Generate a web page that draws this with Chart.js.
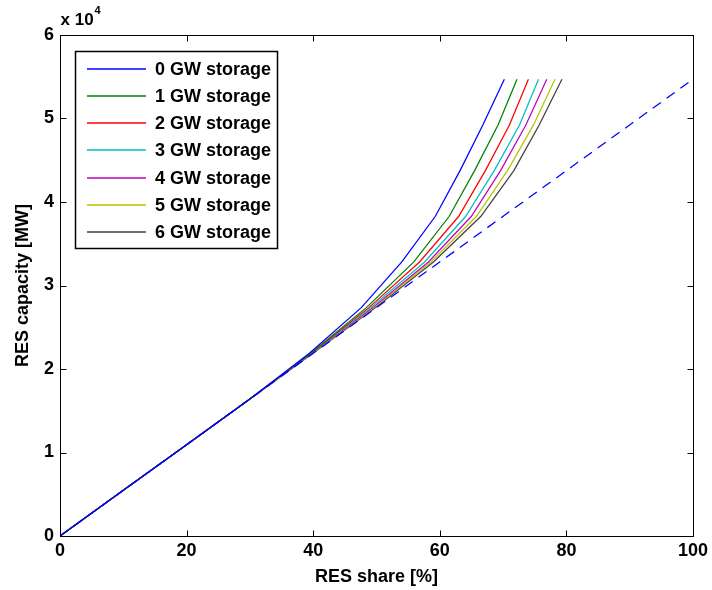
<!DOCTYPE html>
<html lang="en">
<head>
  <meta charset="UTF-8">
  <title>RES capacity vs share</title>
  <script src="https://cdn.jsdelivr.net/npm/chart.js"></script>
  <style>
    body { margin: 0; background: #fff; }
    canvas { display: block; }
  </style>
</head>
<body>
  <canvas id="resChart" width="712" height="590"></canvas>

  <script>
    // capacity levels [MW] at which each storage case was evaluated
    const capacity = [0, 5470, 10940, 16410, 21880, 27350, 32820, 38290, 43760, 49230, 54700];

    // RES share [%] reached at each capacity level
    const share0GW = [0, 10, 20, 30, 39.4, 47.6, 54.0, 59.3, 63.2, 66.8, 70.2];
    const share1GW = [0, 10, 20, 30, 39.6, 48.4, 55.9, 61.5, 65.5, 69.2, 72.2];
    const share2GW = [0, 10, 20, 30, 39.7, 48.8, 56.8, 63.0, 67.2, 71.0, 74.0];
    const share3GW = [0, 10, 20, 30, 39.8, 49.1, 57.6, 64.1, 68.6, 72.6, 75.6];
    const share4GW = [0, 10, 20, 30, 39.85, 49.4, 58.2, 65.0, 69.6, 73.6, 76.9];
    const share5GW = [0, 10, 20, 30, 39.9, 49.6, 58.6, 65.8, 70.7, 74.8, 78.2];
    const share6GW = [0, 10, 20, 30, 39.95, 49.8, 59.0, 66.5, 71.7, 75.7, 79.3];

    // reference line (no curtailment)
    const refShare = [0, 100];
    const refCapacity = [0, 54700];

    const labels = ['0 GW storage', '1 GW storage', '2 GW storage', '3 GW storage',
                    '4 GW storage', '5 GW storage', '6 GW storage'];
    const colors = ['#0000ff', '#008000', '#ff0000', '#00bfbf', '#bf00bf', '#bfbf00', '#404040'];
    const shares = [share0GW, share1GW, share2GW, share3GW, share4GW, share5GW, share6GW];

    const xTicks = [0, 20, 40, 60, 80, 100];
    const yTicks = [0, 10000, 20000, 30000, 40000, 50000, 60000];

    const FONT = "'Liberation Sans', Arial, sans-serif";

    function toPoints(xs, ys) {
      return xs.map((x, i) => ({ x: x, y: ys[i] }));
    }

    const datasets = shares.map((s, i) => ({
      label: labels[i],
      data: toPoints(s, capacity),
      borderColor: colors[i],
      borderWidth: 1.25,
      pointRadius: 0,
      tension: 0,
      fill: false
    }));
    datasets.unshift({
      label: 'reference',
      data: toPoints(refShare, refCapacity),
      borderColor: '#0000ff',
      borderWidth: 1.25,
      borderDash: [10, 7],
      pointRadius: 0,
      fill: false
    });

    // box, inward ticks, exponent label and legend, MATLAB style
    const matlabFrame = {
      id: 'matlabFrame',
      afterDatasetsDraw(chart) {
        const ctx = chart.ctx;
        const a = chart.chartArea;
        const xs = chart.scales.x, ys = chart.scales.y;
        const L = Math.round(a.left) + 0.5, R = Math.round(a.right) + 0.5;
        const T = Math.round(a.top) + 0.5, B = Math.round(a.bottom) + 0.5;
        const tl = 6;
        ctx.save();
        ctx.strokeStyle = '#000';
        ctx.lineWidth = 1;
        ctx.strokeRect(L, T, R - L, B - T);
        ctx.beginPath();
        xTicks.forEach(v => {
          const px = Math.round(xs.getPixelForValue(v)) + 0.5;
          ctx.moveTo(px, B); ctx.lineTo(px, B - tl);
          ctx.moveTo(px, T); ctx.lineTo(px, T + tl);
        });
        yTicks.forEach(v => {
          const py = Math.round(ys.getPixelForValue(v)) + 0.5;
          ctx.moveTo(L, py); ctx.lineTo(L + tl, py);
          ctx.moveTo(R, py); ctx.lineTo(R - tl, py);
        });
        ctx.stroke();

        // exponent
        ctx.fillStyle = '#000';
        ctx.textBaseline = 'alphabetic';
        ctx.textAlign = 'left';
        ctx.font = 'bold 17px ' + FONT;
        ctx.fillText('x 10', L, 25);
        const w = ctx.measureText('x 10').width;
        ctx.font = 'bold 11px ' + FONT;
        ctx.fillText('4', L + w + 1, 14);

        // legend
        const bx = 75.5, by = 51.5, bw = 202, bh = 197;
        ctx.fillStyle = '#fff';
        ctx.fillRect(bx, by, bw, bh);
        ctx.lineWidth = 1.5;
        ctx.strokeRect(bx, by, bw, bh);
        ctx.lineWidth = 1.5;
        ctx.font = 'bold 18px ' + FONT;
        ctx.textBaseline = 'middle';
        chart.data.datasets.slice(1).forEach((ds, i) => {
          const y = Math.round(by + 17 + i * 27.3);
          ctx.strokeStyle = ds.borderColor;
          ctx.beginPath();
          ctx.moveTo(87, y); ctx.lineTo(146, y);
          ctx.stroke();
          ctx.fillStyle = '#000';
          ctx.fillText(ds.label, 155, y + 1);
        });
        ctx.restore();
      }
    };

    new Chart(document.getElementById('resChart'), {
      type: 'line',
      data: { datasets: datasets },
      options: {
        responsive: false,
        animation: false,
        layout: { padding: { top: 35, right: 16, left: 0, bottom: 0 } },
        plugins: {
          legend: { display: false },
          tooltip: { enabled: false }
        },
        scales: {
          x: {
            type: 'linear',
            min: 0,
            max: 100,
            afterFit(scale) { scale.height = 54; },
            afterBuildTicks(scale) { scale.ticks = xTicks.map(v => ({ value: v })); },
            grid: { display: false, drawTicks: false },
            border: { display: false },
            ticks: { color: '#000', padding: 4, font: { family: FONT, size: 18, weight: 'bold' } },
            title: {
              display: true,
              text: 'RES share [%]',
              color: '#000',
              padding: { top: 0, bottom: 2 },
              font: { family: FONT, size: 18, weight: 'bold' }
            }
          },
          y: {
            type: 'linear',
            min: 0,
            max: 60000,
            afterFit(scale) { scale.width = 60; },
            afterBuildTicks(scale) { scale.ticks = yTicks.map(v => ({ value: v })); },
            grid: { display: false, drawTicks: false },
            border: { display: false },
            ticks: {
              color: '#000',
              padding: 6,
              font: { family: FONT, size: 18, weight: 'bold' },
              callback: v => String(v / 10000)
            },
            title: {
              display: true,
              text: 'RES capacity [MW]',
              color: '#000',
              padding: { top: 12, bottom: 0 },
              font: { family: FONT, size: 18, weight: 'bold' }
            }
          }
        }
      },
      plugins: [matlabFrame]
    });
  </script>
</body>
</html>
